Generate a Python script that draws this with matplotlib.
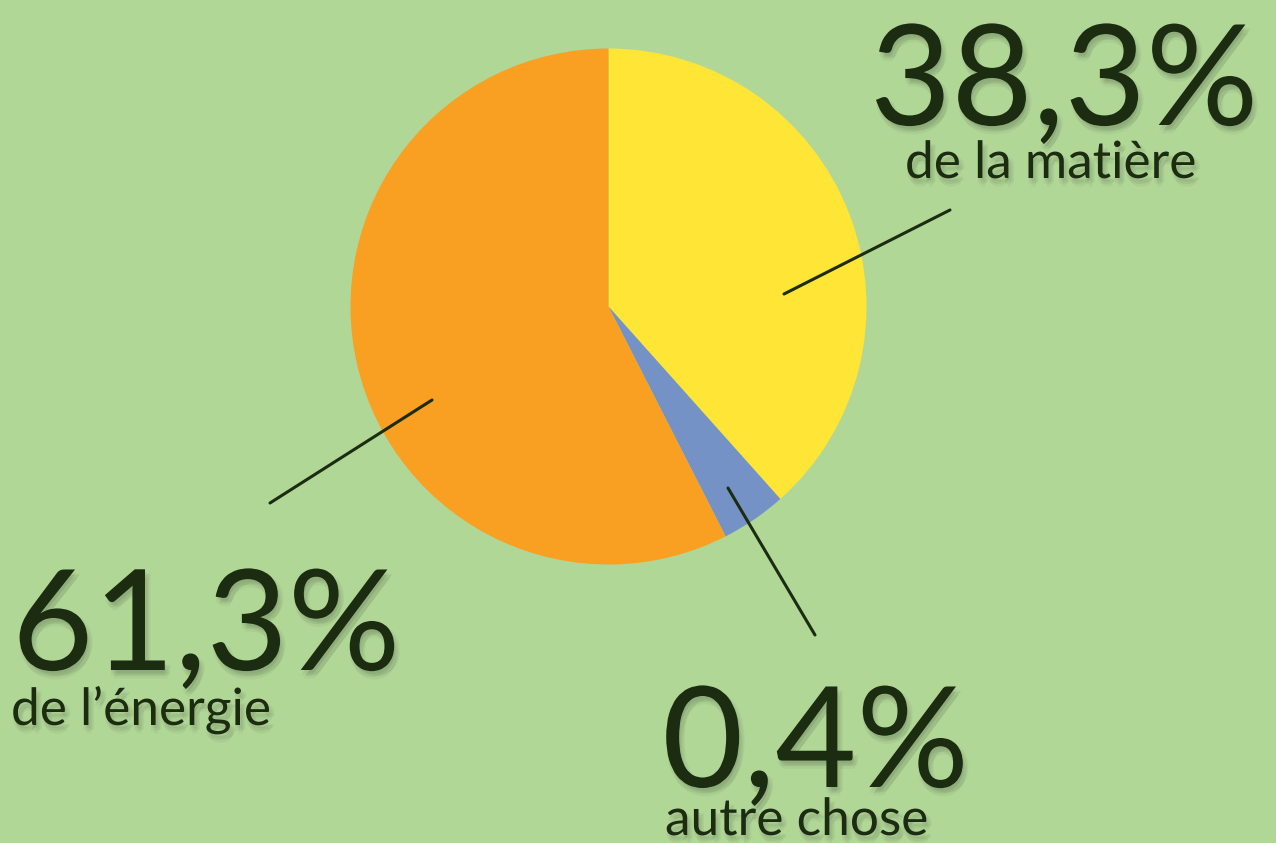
import matplotlib.pyplot as plt
import matplotlib.patheffects as pe

# données (tailles des parts telles que dessinées, textes tels qu'affichés)
labels = ["de la matière", "autre chose", "de l’énergie"]
pourcentages = ["38,3%", "0,4%", "61,3%"]
parts = [38.4, 4.1, 57.5]
couleurs = ["#ffe535", "#7592c7", "#f99f22"]

fond = "#b1d797"
encre = "#1b2c11"

W, H = 1276, 843
fig = plt.figure(figsize=(W / 100, H / 100), dpi=100, facecolor=fond)
ax = fig.add_axes([0, 0, 1, 1])

# camembert : coordonnées en pixels, y vers le haut
ax.pie(parts, colors=couleurs, startangle=90, counterclock=False,
       center=(608.5, H - 306.5), radius=258, frame=True,
       wedgeprops=dict(linewidth=0))
ax.set_xlim(0, W)
ax.set_ylim(0, H)
ax.set_aspect("equal")
ax.axis("off")

# traits de rappel
traits = [((784, 294), (950, 210)),
          ((728, 488), (815, 635)),
          ((432, 400), (270, 503))]
for (x0, y0), (x1, y1) in traits:
    ax.plot([x0, x1], [H - y0, H - y1], color=encre, lw=2.2,
            solid_capstyle="round")

# ombre douce : plusieurs ombres légères décalées
ombre = [pe.SimplePatchShadow(offset=(dx, dy), shadow_rgbFace="black", alpha=0.04)
         for dx, dy in [(1, -2), (3, -4), (2, -6), (4, -3), (0, -4)]]
ombre.append(pe.Normal())

# positions des textes (x, ligne de base en px depuis le haut)
pos_grand = [(870, 125), (662, 787), (12, 670)]
pos_petit = [(905, 178), (665, 835), (11, 725)]

for i in range(3):
    x, y = pos_grand[i]
    ax.text(x, H - y, pourcentages[i], fontsize=101, family="Lato",
            color=encre, ha="left", va="baseline", path_effects=ombre)
    x, y = pos_petit[i]
    ax.text(x, H - y, labels[i], fontsize=37, family="Lato",
            color=encre, ha="left", va="baseline", path_effects=ombre)

fig.savefig("out.png", dpi=100, facecolor=fond)
